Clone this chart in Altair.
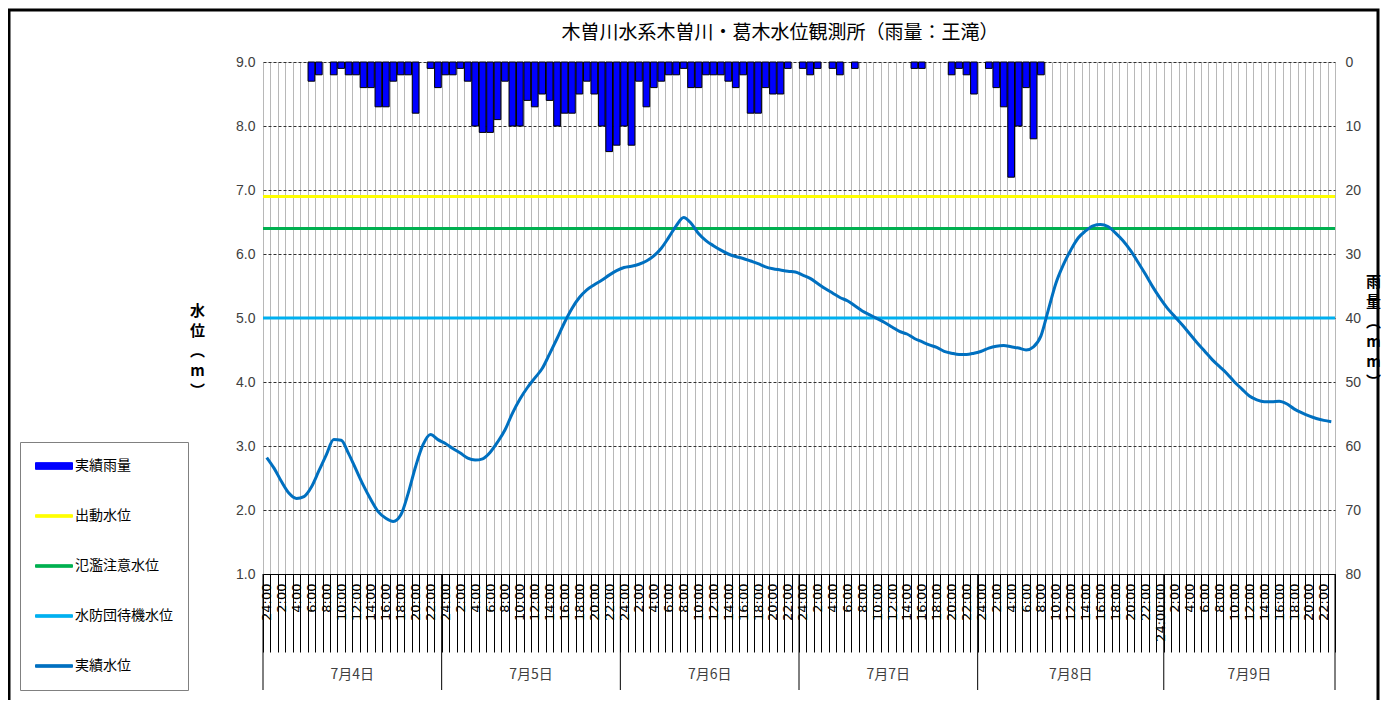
import json
import altair as alt
import pandas as pd

# ---------------- data ----------------
HOURS = list(range(144))  # hourly categories 7/4 24:00 ... 7/9 23:00

RAIN = [0, 0, 0, 0, 0, 0, 3, 2, 0, 2, 1, 2, 2, 4, 4, 7, 7, 3, 2, 2, 8, 0, 1, 4,
        2, 2, 1, 3, 10, 11, 11, 9, 3, 10, 10, 6, 7, 5, 6, 10, 8, 8, 5, 3, 5, 10, 14, 13,
        10, 13, 3, 7, 4, 3, 2, 2, 1, 4, 4, 2, 2, 2, 3, 4, 2, 8, 8, 4, 5, 5, 1, 0,
        1, 2, 1, 0, 1, 2, 0, 1, 0, 0, 0, 0, 0, 0, 0, 1, 1, 0, 0, 0, 2, 1, 2, 5,
        0, 1, 4, 7, 18, 10, 4, 12, 2, 0, 0, 0, 0, 0, 0, 0, 0, 0, 0, 0, 0, 0, 0, 0, 0,
        0, 0, 0, 0, 0, 0, 0, 0, 0, 0, 0, 0, 0, 0, 0, 0, 0, 0, 0, 0, 0, 0, 0]

LEVEL = [2.82, 2.65, 2.44, 2.26, 2.18, 2.21, 2.36, 2.61, 2.86, 3.10, 3.09, 2.88,
         2.63, 2.38, 2.16, 1.97, 1.87, 1.82, 1.92, 2.26, 2.68, 3.02, 3.18, 3.10,
         3.04, 2.96, 2.89, 2.81, 2.78, 2.80, 2.90, 3.06, 3.25, 3.51, 3.73, 3.91,
         4.06, 4.21, 4.44, 4.68, 4.93, 5.15, 5.32, 5.44, 5.52, 5.59, 5.67, 5.74,
         5.79, 5.81, 5.84, 5.89, 5.97, 6.09, 6.26, 6.44, 6.57, 6.48, 6.32, 6.21,
         6.13, 6.06, 6.00, 5.96, 5.93, 5.89, 5.85, 5.80, 5.77, 5.75, 5.73, 5.72,
         5.67, 5.62, 5.54, 5.46, 5.39, 5.32, 5.27, 5.19, 5.11, 5.05, 4.99, 4.93,
         4.86, 4.79, 4.75, 4.68, 4.63, 4.58, 4.54, 4.48, 4.45, 4.43, 4.43, 4.45,
         4.48, 4.53, 4.56, 4.57, 4.55, 4.53, 4.50, 4.55, 4.72, 5.13, 5.54, 5.83,
         6.06, 6.25, 6.36, 6.44, 6.46, 6.43, 6.33, 6.21, 6.06, 5.88, 5.69, 5.49,
         5.31, 5.15, 5.02, 4.89, 4.75, 4.61, 4.48, 4.35, 4.24, 4.13, 4.00, 3.89,
         3.78, 3.72, 3.69, 3.69, 3.70, 3.66, 3.58, 3.52, 3.47, 3.43, 3.40, 3.38]

TICK_LABELS = []
for i in HOURS:
    if i % 2:
        TICK_LABELS.append("")
    elif i < 120:
        h = i % 24
        TICK_LABELS.append("24:00" if h == 0 else f"{h}:00")
    elif i == 120:
        TICK_LABELS.append("24:00:00")
    else:
        TICK_LABELS.append(f"{i - 120}:00")

DAY_LABELS = ["7月4日", "7月5日", "7月6日", "7月7日", "7月8日", "7月9日"]
DAY_START = [0, 24, 48, 72, 96, 121]
DAY_COUNT = [24, 24, 24, 24, 25, 23]

SERIES = ["実績雨量", "出動水位", "氾濫注意水位", "水防団待機水位", "実績水位"]
COLORS = ["#0000ff", "#ffff00", "#00b050", "#00b0f0", "#0070c0"]
THRESH_NAMES = ["出動水位", "氾濫注意水位", "水防団待機水位"]
THRESH_VALUES = [6.9, 6.4, 5.0]

TITLE = "木曽川水系木曽川・葛木水位観測所（雨量：王滝）"

# ---------------- tables ----------------
rain_df = pd.DataFrame({"idx": HOURS, "rain": RAIN, "series": "実績雨量"})
rain_df = rain_df[rain_df["rain"] > 0]
level_df = pd.DataFrame({"idx": HOURS, "level": LEVEL, "series": "実績水位"})
thr_df = pd.DataFrame({"series": THRESH_NAMES, "level": THRESH_VALUES})

centers = [s + n / 2 for s, n in zip(DAY_START, DAY_COUNT)]
day_df = pd.DataFrame({"day": DAY_LABELS,
                       "slot": [int(c) for c in centers],
                       "frac": [c - int(c) for c in centers]})
sep_df = pd.DataFrame({"slot": DAY_START})
end_df = pd.DataFrame({"slot": [HOURS[-1]]})
frame_df = pd.DataFrame({"k": [0]})

W, H = 1072, 512
JP = "Noto Sans CJK JP"

XSCALE = alt.Scale(domain=HOURS, paddingInner=0, paddingOuter=0)
XAXIS = alt.Axis(
    title=None, grid=True, gridColor="#b8b8b8", gridWidth=1, tickBand="extent",
    ticks=True, tickSize=78, tickColor="black", tickWidth=1, domainColor="black",
    labelAngle=270, labelAlign="right", labelBaseline="middle",
    labelExpr=json.dumps(TICK_LABELS, ensure_ascii=False) + "[datum.value]",
    labelFont="DejaVu Sans", labelFontSize=13, labelColor="black",
    labelPadding=-69, labelOverlap=False, labelBound=False, labelFlush=False)


def xenc(band=None):
    kw = {}
    if band is not None:
        kw["bandPosition"] = band
    return alt.X("idx:O" if band is None else "slot:O", scale=XSCALE, axis=XAXIS, **kw)


YL_SCALE = alt.Scale(domain=[1, 9], nice=False, zero=False)
YL_AXIS = alt.Axis(
    title=["水", "位", "︵", "m", "︶"], titleAngle=0, titleX=-66, titleY=241,
    titleAlign="center", titleBaseline="top", titleFont=JP, titleFontSize=15,
    titleFontWeight="bold", titleLineHeight=20, titleColor="black",
    values=[1, 2, 3, 4, 5, 6, 7, 8, 9], format=".1f", labelFont="Liberation Sans",
    labelFontSize=14, labelColor="#404040", labelPadding=8, ticks=False, domain=False,
    grid=True, gridColor="#303030", gridDash=[3, 2], gridWidth=1)

YR_SCALE = alt.Scale(domain=[0, 80], reverse=True, nice=False)
YR_AXIS = alt.Axis(
    orient="right", title=["雨", "量", "︵", "m", "m", "︶"], titleAngle=0, titleX=38,
    titleY=212, titleAlign="center", titleBaseline="top", titleFont=JP, titleFontSize=15,
    titleFontWeight="bold", titleLineHeight=20, titleColor="black",
    values=[0, 10, 20, 30, 40, 50, 60, 70, 80], labelFont="Liberation Sans",
    labelFontSize=14, labelColor="#404040", labelPadding=10, ticks=False, domain=False,
    grid=False)

RAIN_SHAPE = "M-1,-0.18L1,-0.18L1,0.18L-1,0.18Z"
LINE_SHAPE = "M-1,-0.07L1,-0.07L1,0.07L-1,0.07Z"
IS_RAIN = "datum.value === '実績雨量'"
LEGEND = alt.Legend(
    orient="none", legendX=-243, legendY=380, title=None, direction="vertical",
    padding=15, rowPadding=32, clipHeight=18, strokeColor="#808080", fillColor="white",
    labelFont=JP, labelFontSize=14, labelColor="black", labelOffset=2,
    symbolSize=1369, symbolStrokeWidth=1,
    symbolType=alt.ExprRef(expr=f"{IS_RAIN} ? '{RAIN_SHAPE}' : '{LINE_SHAPE}'"),
    symbolFillColor=alt.ExprRef(expr=f"{IS_RAIN} ? '#0000ff' : scale('color', datum.value)"),
    symbolStrokeColor=alt.ExprRef(expr=f"{IS_RAIN} ? '#000000' : scale('color', datum.value)"))

CENC = alt.Color("series:N", scale=alt.Scale(domain=SERIES, range=COLORS), legend=LEGEND)

bars = alt.Chart(rain_df).mark_bar(stroke="black", strokeWidth=1, width={"band": 0.9}).encode(
    x=xenc(), y=alt.Y("rain:Q", scale=YR_SCALE, axis=YR_AXIS), color=CENC)

rules = alt.Chart(thr_df).mark_rule(strokeWidth=3).encode(
    y=alt.Y("level:Q", scale=YL_SCALE, axis=YL_AXIS), color=CENC)

line = alt.Chart(level_df).mark_line(strokeWidth=3, interpolate="monotone").encode(
    x=xenc(), y=alt.Y("level:Q", scale=YL_SCALE, axis=YL_AXIS), color=CENC)

left = alt.layer(rules, line)

seps = alt.Chart(sep_df).mark_rule(color="black", strokeWidth=1).encode(
    x=xenc(0), y=alt.value(H), y2=alt.value(H + 116))
seps_end = alt.Chart(end_df).mark_rule(color="black", strokeWidth=1).encode(
    x=xenc(1), y=alt.value(H), y2=alt.value(H + 116))

day_a = alt.Chart(day_df).transform_filter("datum.frac == 0").mark_text(
    font=JP, fontSize=14, color="#404040", baseline="middle", align="center").encode(
    x=xenc(0), y=alt.value(H + 101), text="day:N")
day_b = alt.Chart(day_df).transform_filter("datum.frac != 0").mark_text(
    font=JP, fontSize=14, color="#404040", baseline="middle", align="center").encode(
    x=xenc(0.5), y=alt.value(H + 101), text="day:N")

frame = alt.Chart(frame_df).mark_rect(filled=False, stroke="black", strokeWidth=3).encode(
    x=alt.value(-254), x2=alt.value(W + 43), y=alt.value(-52), y2=alt.value(H + 150))

chart = alt.layer(bars, left, seps, seps_end, day_a, day_b, frame).resolve_scale(
    y="independent"
).properties(
    width=W, height=H,
    title=alt.TitleParams(TITLE, font=JP, fontSize=19, fontWeight="normal", color="black",
                          anchor="middle", frame="group", dx=-19, offset=-34),
    autosize=alt.AutoSizeParams(type="none"),
    padding={"left": 255, "top": 54, "right": 46, "bottom": 126},
).configure_view(stroke="black", strokeWidth=1).configure(background="white")

chart.save("out.html", embed_options={"renderer": "svg", "actions": False})
